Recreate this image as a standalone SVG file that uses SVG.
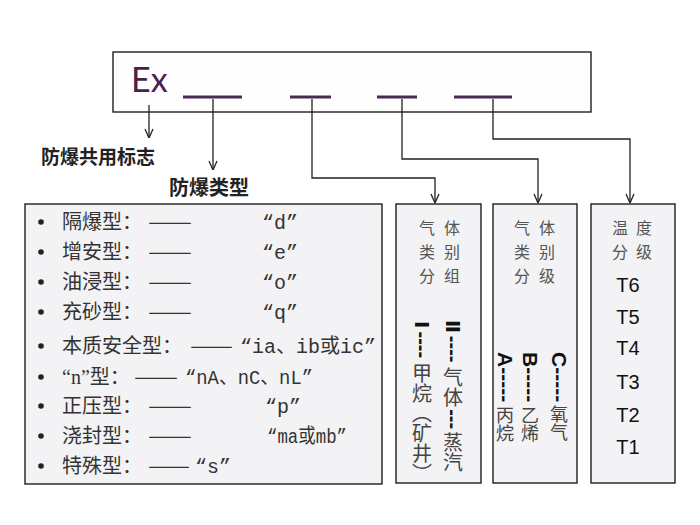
<svg xmlns="http://www.w3.org/2000/svg" width="700" height="525" viewBox="0 0 700 525">
<defs>
<style>
.box{fill:#f3f2f4;stroke:#1e1e1e;stroke-width:1.4}
.conn{fill:none;stroke:#222;stroke-width:1.3;marker-end:url(#arr)}
.ul{stroke:#4b2a52;stroke-width:3}
.lbl{font-family:"Noto Sans CJK SC",sans-serif;font-weight:bold;fill:#222}
.li{font-family:"Liberation Mono","Noto Sans CJK SC",monospace;font-size:20px;fill:#333}
.dash{font-family:"Noto Sans CJK SC",sans-serif;font-size:20px;fill:#333}
.ttl{font-family:"Noto Sans CJK SC",sans-serif;font-size:16px;fill:#555;text-anchor:middle}
.v{writing-mode:vertical-rl}
.vc{font-family:"Noto Sans CJK SC",sans-serif;font-weight:normal;fill:#444}
.vd{font-family:"Liberation Sans","DejaVu Sans",sans-serif;font-weight:bold;fill:#111}
.sw{text-orientation:sideways}
.t{font-family:"Liberation Sans",Arial,sans-serif;font-size:20px;fill:#111;text-anchor:middle}
</style>
<marker id="arr" viewBox="0 0 10 10" refX="10" refY="5" markerWidth="10" markerHeight="10" markerUnits="userSpaceOnUse" orient="auto">
<path d="M1,1 L10,5 L1,9" fill="none" stroke="#222" stroke-width="1.3"/>
</marker>
</defs>
<rect width="700" height="525" fill="#ffffff"/>

<g id="code">
<rect x="113" y="52" width="478" height="60" fill="#fefefe" stroke="#1e1e1e" stroke-width="1.4"/>
<text x="131" y="92" font-family="Lato,'Liberation Sans',sans-serif" font-size="34" fill="#4a1f4f">Ex</text>
<line class="ul" x1="183" y1="97" x2="242" y2="97"/>
<line class="ul" x1="290" y1="97" x2="331" y2="97"/>
<line class="ul" x1="377" y1="97" x2="417" y2="97"/>
<line class="ul" x1="454" y1="97" x2="512" y2="97"/>
</g>

<g id="connectors">
<path class="conn" d="M149,105 V138"/>
<path class="conn" d="M213,99 V170"/>
<path class="conn" d="M312,99 V178 H435 V203"/>
<path class="conn" d="M402,99 V159 H538 V203"/>
<path class="conn" d="M493,99 V139 H630 V203"/>
</g>

<g id="label-mark">
<text class="lbl" x="41" y="164" font-size="19">防爆共用标志</text>
</g>
<g id="label-type">
<text class="lbl" x="169" y="195" font-size="20">防爆类型</text>
</g>

<g id="types">
<rect class="box" x="25" y="204" width="357" height="280"/>
<g fill="#222">
<circle cx="41" cy="222" r="2.8"/>
<circle cx="41" cy="252" r="2.8"/>
<circle cx="41" cy="282" r="2.8"/>
<circle cx="41" cy="312" r="2.8"/>
<circle cx="41" cy="346" r="2.8"/>
<circle cx="41" cy="377" r="2.8"/>
<circle cx="41" cy="406" r="2.8"/>
<circle cx="41" cy="436" r="2.8"/>
<circle cx="41" cy="466" r="2.8"/>
</g>
<text class="li" x="62" y="229">隔爆型：</text>
<text class="dash" x="148" y="229" textLength="44" lengthAdjust="spacingAndGlyphs">——</text>
<text class="li" x="262" y="229">“d”</text>

<text class="li" x="62" y="259">增安型：</text>
<text class="dash" x="148" y="259" textLength="44" lengthAdjust="spacingAndGlyphs">——</text>
<text class="li" x="262" y="259">“e”</text>

<text class="li" x="62" y="289">油浸型：</text>
<text class="dash" x="148" y="289" textLength="44" lengthAdjust="spacingAndGlyphs">——</text>
<text class="li" x="262" y="289">“o”</text>

<text class="li" x="62" y="319">充砂型：</text>
<text class="dash" x="148" y="319" textLength="44" lengthAdjust="spacingAndGlyphs">——</text>
<text class="li" x="262" y="319">“q”</text>

<text class="li" x="62" y="353">本质安全型：</text>
<text class="dash" x="190" y="353" textLength="43" lengthAdjust="spacingAndGlyphs">——</text>
<text class="li" x="240" y="353">“ia、ib或ic”</text>

<text class="li" x="62" y="384"><tspan font-family="'Liberation Serif','Noto Sans CJK SC',serif">“n”</tspan>型：</text>
<text class="dash" x="134" y="384" textLength="44" lengthAdjust="spacingAndGlyphs">——</text>
<text class="li" x="185" y="384" textLength="128" lengthAdjust="spacingAndGlyphs">“nA、nC、nL”</text>

<text class="li" x="62" y="413">正压型：</text>
<text class="dash" x="148" y="413" textLength="44" lengthAdjust="spacingAndGlyphs">——</text>
<text class="li" x="265" y="413">“p”</text>

<text class="li" x="62" y="443">浇封型：</text>
<text class="dash" x="148" y="443" textLength="44" lengthAdjust="spacingAndGlyphs">——</text>
<text class="li" x="267" y="443" textLength="80" lengthAdjust="spacingAndGlyphs">“ma或mb”</text>

<text class="li" x="62" y="473">特殊型：</text>
<text class="dash" x="148" y="473" textLength="42" lengthAdjust="spacingAndGlyphs">——</text>
<text class="li" x="195" y="473">“s”</text>
</g>

<g id="gas-group">
<rect class="box" x="396" y="204" width="85" height="279"/>
<text class="ttl"><tspan x="427" y="234">气</tspan><tspan x="452" y="234">体</tspan><tspan x="427" y="258">类</tspan><tspan x="452" y="258">别</tspan><tspan x="427" y="282">分</tspan><tspan x="452" y="282">组</tspan></text>
<text class="v vd" font-size="20" x="422" y="321"><tspan class="sw">Ⅰ</tspan><tspan y="332">----</tspan><tspan class="vc" y="363">甲烷（矿井）</tspan></text>
<text class="v vd" font-size="20" x="453" y="320"><tspan class="sw">Ⅱ</tspan><tspan y="336">----</tspan><tspan class="vc" y="367">气体</tspan><tspan y="409">---</tspan><tspan class="vc" y="432">蒸汽</tspan></text>
</g>

<g id="gas-class">
<rect class="box" x="493" y="204" width="84" height="279"/>
<text class="ttl"><tspan x="522" y="234">气</tspan><tspan x="547" y="234">体</tspan><tspan x="522" y="258">类</tspan><tspan x="547" y="258">别</tspan><tspan x="522" y="282">分</tspan><tspan x="547" y="282">级</tspan></text>
<text class="v vd" font-size="21" x="505" y="352">A-----<tspan class="vc" font-size="18" y="406">丙烷</tspan></text>
<text class="v vd" font-size="21" x="530" y="352">B-----<tspan class="vc" font-size="18" y="406">乙烯</tspan></text>
<text class="v vd" font-size="21" x="559" y="352">C-----<tspan class="vc" font-size="18" y="405">氧气</tspan></text>
</g>

<g id="temp-class">
<rect class="box" x="591" y="204" width="84" height="279"/>
<text class="ttl"><tspan x="620" y="234">温</tspan><tspan x="644" y="234">度</tspan><tspan x="620" y="258">分</tspan><tspan x="644" y="258">级</tspan></text>
<text class="t" x="628" y="292">T6</text>
<text class="t" x="628" y="324">T5</text>
<text class="t" x="628" y="355">T4</text>
<text class="t" x="628" y="389">T3</text>
<text class="t" x="628" y="422">T2</text>
<text class="t" x="628" y="454">T1</text>
</g>
</svg>
